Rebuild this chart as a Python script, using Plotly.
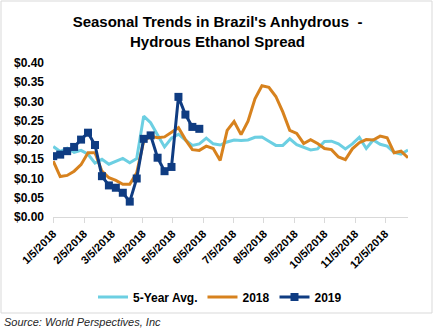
import plotly.graph_objects as go
import pandas as pd

dates = pd.date_range("2018-01-05", periods=52, freq="7D")

avg5 = [0.183, 0.170, 0.179, 0.168, 0.173, 0.163, 0.140, 0.150, 0.137, 0.145,
        0.152, 0.141, 0.152, 0.262, 0.245, 0.213, 0.182, 0.205, 0.215, 0.200,
        0.186, 0.190, 0.205, 0.190, 0.187, 0.195, 0.200, 0.199, 0.200, 0.207,
        0.208, 0.197, 0.186, 0.186, 0.203, 0.188, 0.180, 0.174, 0.177, 0.196,
        0.197, 0.190, 0.177, 0.190, 0.207, 0.178, 0.200, 0.189, 0.184, 0.168,
        0.163, 0.174]

y2018 = [0.145, 0.105, 0.108, 0.119, 0.136, 0.167, 0.167, 0.119, 0.102, 0.095,
         0.085, 0.085, 0.115, 0.197, 0.210, 0.206, 0.208, 0.219, 0.232, 0.201,
         0.175, 0.173, 0.184, 0.178, 0.147, 0.225, 0.248, 0.214, 0.249, 0.307,
         0.341, 0.337, 0.313, 0.273, 0.225, 0.217, 0.191, 0.201, 0.191, 0.178,
         0.175, 0.156, 0.149, 0.177, 0.193, 0.201, 0.200, 0.210, 0.206, 0.167,
         0.171, 0.154]

y2019 = [0.158, 0.162, 0.171, 0.182, 0.201, 0.219, 0.187, 0.106, 0.082, 0.076,
         0.063, 0.040, 0.100, 0.203, 0.212, 0.154, 0.119, 0.130, 0.312, 0.266,
         0.234, 0.229]

tick_dates = [pd.Timestamp(2018, m, 5) for m in range(1, 13)]
tick_text = [f"<b>{d.month}/5/2018</b>" for d in tick_dates]
y_ticks = [0.0, 0.05, 0.10, 0.15, 0.20, 0.25, 0.30, 0.35, 0.40]
y_text = [f"<b>${v:.2f}</b>" for v in y_ticks]

fig = go.Figure()
fig.add_trace(go.Scatter(x=dates, y=avg5, name="<b>5-Year Avg.</b>", mode="lines",
                         line=dict(color="#6ccfe2", width=3)))
fig.add_trace(go.Scatter(x=dates, y=y2018, name="<b>2018</b>", mode="lines",
                         line=dict(color="#d7821e", width=3)))
fig.add_trace(go.Scatter(x=dates[:len(y2019)], y=y2019, name="<b>2019</b>", mode="lines+markers",
                         line=dict(color="#0f3c82", width=3),
                         marker=dict(symbol="square", size=8, color="#0f3c82")))

L, R, T, B = 53, 408, 63, 217
W, H = 435, 332
pw, ph = R - L, B - T

def px(x):
    return (x - L) / pw

def py(y):
    return (B - y) / ph

fig.update_layout(
    width=W, height=H,
    margin=dict(l=L, r=W - R, t=T, b=H - B),
    paper_bgcolor="white", plot_bgcolor="white",
    font=dict(family="Liberation Sans, Arial, sans-serif", color="#000000"),
    title=dict(text="<b>Seasonal Trends in Brazil's Anhydrous  -<br>Hydrous Ethanol Spread</b>",
               x=0.5, xanchor="center", y=1 - 27 / H, yanchor="middle",
               font=dict(size=15, color="#000000")),
    showlegend=True,
    legend=dict(orientation="h", x=px(220), xanchor="center", y=py(297), yanchor="middle",
                font=dict(size=12, color="#000000"), bgcolor="rgba(0,0,0,0)",
                tracegroupgap=0),
    xaxis=dict(range=[dates[0] - pd.Timedelta(hours=6), dates[-1]],
               tickmode="array", tickvals=tick_dates, ticktext=tick_text,
               tickangle=-45, tickfont=dict(size=11, color="#000000"),
               showgrid=False, zeroline=False, showline=True, linecolor="#d9d9d9",
               linewidth=1, ticks="outside", ticklen=5, tickcolor="#d9d9d9"),
    yaxis=dict(range=[0, 0.40], tickmode="array", tickvals=y_ticks, ticktext=y_text,
               tickfont=dict(size=12, color="#000000"), showgrid=False, zeroline=False,
               showline=False, ticks="", ticklabelstandoff=8),
    shapes=[dict(type="rect", xref="paper", yref="paper",
                 x0=px(1), x1=px(432), y0=py(313), y1=py(1),
                 line=dict(color="#d9d9d9", width=1), fillcolor="rgba(0,0,0,0)", layer="below")],
    annotations=[dict(text="<i>Source: World Perspectives, Inc</i>", xref="paper", yref="paper",
                      x=px(2), y=py(322), xanchor="left", yanchor="middle", showarrow=False,
                      font=dict(size=11, color="#262626"))],
)

fig.write_html("out.html")
